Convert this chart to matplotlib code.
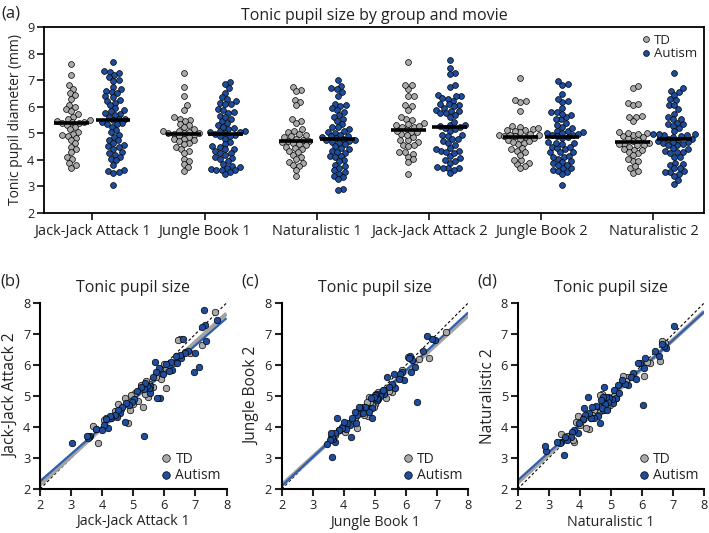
import numpy as np
import matplotlib
matplotlib.use('Agg')
import matplotlib.pyplot as plt
from matplotlib.lines import Line2D

plt.rcParams['font.family'] = ['Open Sans', 'DejaVu Sans']
plt.rcParams['text.color'] = '#222222'
plt.rcParams['axes.labelcolor'] = '#222222'
plt.rcParams['xtick.color'] = '#222222'
plt.rcParams['ytick.color'] = '#222222'

# ---------------- data ----------------
movies = ['Jack-Jack Attack 1', 'Jungle Book 1', 'Naturalistic 1',
          'Jack-Jack Attack 2', 'Jungle Book 2', 'Naturalistic 2']
groups = ['TD', 'Autism']

td_jja1 = [7.62, 7.20, 6.82, 6.68, 6.52, 6.45, 6.30, 6.05, 6.00, 5.90, 5.85, 5.72, 5.62, 5.55, 5.50, 5.47, 5.44, 5.42, 5.40, 5.38,
           5.32, 5.24, 5.15, 5.05, 4.98, 4.94, 4.90, 4.82, 4.75, 4.62, 4.50, 4.40, 4.28, 4.12, 4.05, 3.88, 3.80, 3.70]
td_jja2 = [7.70, 6.66, 6.40, 6.42, 6.83, 6.80, 6.05, 5.25, 6.02, 5.55, 5.88, 5.60, 5.30, 5.22, 5.40, 4.98, 5.15, 5.28, 5.50, 5.05,
           4.66, 5.35, 4.85, 5.10, 4.74, 5.04, 4.55, 4.12, 4.93, 4.57, 4.75, 4.52, 4.30, 4.28, 4.22, 3.47, 3.92, 4.02]
aut_jja1 = [7.68, 7.35, 7.32, 7.28, 7.20, 7.11, 7.00, 6.97, 6.75, 6.65, 6.60, 6.55, 6.50, 6.40, 6.36, 6.25, 6.22, 6.15, 6.05, 5.95,
            5.87, 5.83, 5.76, 5.74, 5.69, 5.62, 5.55, 5.53, 5.50, 5.44, 5.38, 5.36, 5.34, 5.24, 5.13, 5.03, 4.95, 4.85, 4.76, 4.74,
            4.64, 4.57, 4.52, 4.48, 4.42, 4.30, 4.25, 4.19, 4.12, 4.05, 3.98, 3.80, 3.62, 3.58, 3.55, 3.52, 3.04]
aut_jja2 = [7.45, 6.76, 7.28, 7.76, 7.22, 5.95, 6.40, 5.76, 6.45, 6.39, 6.83, 6.22, 6.32, 6.05, 6.30, 5.85, 6.09, 5.82, 6.02, 5.70,
            4.94, 5.89, 4.94, 5.76, 6.09, 5.62, 5.09, 5.32, 5.25, 5.32, 5.43, 5.21, 3.71, 5.28, 5.17, 4.89, 4.80, 4.70, 4.78, 4.15,
            4.65, 4.46, 4.55, 4.33, 4.40, 4.30, 4.35, 3.98, 4.26, 4.06, 3.90, 3.95, 3.72, 3.68, 3.63, 3.70, 3.49]

td_jb1 = [7.28, 6.75, 6.42, 6.05, 5.88, 5.60, 5.55, 5.50, 5.45, 5.35, 5.30, 5.22, 5.15, 5.10, 5.08, 5.05, 5.02, 5.00, 5.00, 4.98,
          4.95, 4.90, 4.85, 4.80, 4.78, 4.75, 4.70, 4.65, 4.60, 4.50, 4.42, 4.35, 4.25, 4.05, 3.95, 3.85, 3.72, 3.58]
td_jb2 = [7.08, 6.22, 6.18, 6.25, 5.85, 5.28, 5.12, 5.25, 5.15, 4.92, 5.20, 5.05, 5.10, 5.12, 4.95, 4.88, 4.85, 4.75, 4.95, 4.65,
          4.90, 4.70, 4.80, 4.98, 4.35, 4.82, 4.60, 4.40, 4.66, 4.45, 3.98, 4.28, 4.20, 3.85, 4.00, 3.90, 3.75, 3.68]
aut_jb1 = [6.92, 6.85, 6.69, 6.53, 6.36, 6.29, 6.20, 6.15, 6.12, 6.10, 5.93, 5.86, 5.80, 5.77, 5.66, 5.55, 5.39, 5.30, 5.20, 5.15,
           5.10, 5.07, 5.05, 5.03, 5.00, 4.96, 4.92, 4.91, 4.88, 4.80, 4.69, 4.60, 4.52, 4.48, 4.42, 4.40, 4.35, 4.26, 4.24, 4.20,
           4.10, 4.07, 4.02, 3.94, 3.85, 3.78, 3.72, 3.70, 3.65, 3.62, 3.60, 3.62, 3.55, 3.45, 5.45, 5.60, 5.25]
aut_jb2 = [6.82, 6.84, 6.95, 6.46, 4.82, 5.95, 6.17, 5.79, 6.28, 6.22, 5.52, 5.79, 5.70, 5.55, 5.25, 5.40, 5.61, 5.05, 5.10, 5.00,
           4.90, 4.87, 4.95, 5.08, 5.02, 4.98, 4.30, 4.60, 4.92, 4.50, 4.66, 4.45, 4.62, 4.64, 4.39, 4.12, 4.48, 4.28, 3.69, 4.05,
           4.12, 3.93, 4.15, 3.96, 3.90, 4.28, 3.80, 3.53, 3.62, 3.69, 3.82, 3.04, 3.58, 3.45, 5.30, 5.72, 5.20]

td_nat1 = [6.75, 6.63, 6.58, 6.25, 6.16, 6.05, 5.55, 5.47, 5.39, 5.15, 5.10, 5.05, 4.98, 4.92, 4.88, 4.85, 4.80, 4.75, 4.72, 4.70,
           4.66, 4.64, 4.60, 4.55, 4.50, 4.46, 4.40, 4.35, 4.28, 4.19, 4.10, 4.02, 3.93, 3.88, 3.80, 3.77, 3.60, 3.40]
td_nat2 = [6.71, 6.79, 6.14, 6.05, 6.09, 5.65, 5.62, 5.47, 5.63, 4.95, 5.00, 4.85, 4.72, 4.98, 4.60, 4.90, 4.75, 4.55, 5.05, 4.82,
           4.65, 5.02, 4.50, 4.40, 4.60, 4.55, 4.38, 4.30, 3.95, 3.96, 4.25, 4.05, 4.36, 4.17, 3.52, 3.58, 3.70, 3.77]
aut_nat1 = [7.02, 6.77, 6.71, 6.65, 6.55, 6.42, 6.10, 6.05, 6.03, 5.95, 5.88, 5.70, 5.63, 5.55, 5.45, 5.36, 5.23, 5.15, 5.10, 5.05,
            5.02, 4.95, 4.90, 4.85, 4.82, 4.78, 4.75, 4.73, 4.70, 4.67, 4.65, 4.58, 4.51, 4.45, 4.39, 4.35, 4.30, 4.25, 4.88, 4.16,
            4.14, 4.10, 5.80, 3.98, 3.95, 3.82, 3.75, 3.70, 3.60, 3.53, 3.48, 3.40, 3.35, 3.27, 2.92, 2.87, 5.25]
aut_nat2 = [7.25, 6.55, 6.60, 6.69, 6.30, 6.44, 6.24, 5.90, 4.71, 6.08, 6.05, 5.74, 5.62, 5.36, 5.40, 5.52, 5.36, 4.95, 5.20, 4.78,
            4.90, 4.92, 4.80, 4.98, 4.75, 5.29, 4.55, 4.98, 4.62, 4.87, 4.12, 4.35, 4.68, 4.30, 4.66, 4.28, 4.44, 4.98, 4.55, 4.39,
            4.61, 4.25, 5.55, 4.12, 3.80, 3.90, 3.85, 3.69, 3.58, 3.69, 3.10, 3.53, 3.48, 3.53, 3.24, 3.40, 5.10]

y_ticks = [2, 3, 4, 5, 6, 7, 8, 9]
sc_ticks = [2, 3, 4, 5, 6, 7, 8]

# ---------------- style ----------------
GRAY = '#a9a9a9'
BLUE = '#1d4d9c'
GRAY_LINE = '#a3a3a3'
BLUE_LINE = '#2f5fae'
MS = 4.2            # marker diameter (pt)
DPI = 100

td_by_movie = [td_jja1, td_jb1, td_nat1, td_jja2, td_jb2, td_nat2]
aut_by_movie = [aut_jja1, aut_jb1, aut_nat1, aut_jja2, aut_jb2, aut_nat2]

W, H = 709, 533
fig = plt.figure(figsize=(W / DPI, H / DPI), dpi=DPI)


def swarm_x(ax, center, vals, diam_px, overlap=0.9, step=0.5):
    """Beeswarm layout computed in display space, returned in data x."""
    vals = np.asarray(vals, float)
    pts = ax.transData.transform(np.column_stack([np.full(len(vals), center), vals]))
    cx, ys = pts[0, 0], pts[:, 1]
    mind2 = (diam_px * overlap) ** 2
    placed_x, placed_y = [], []
    offs = np.zeros(len(vals))
    for idx in np.argsort(ys):
        y = ys[idx]
        px = np.array(placed_x)
        py = np.array(placed_y)
        chosen = 0.0
        for k in range(400):
            cands = [0.0] if k == 0 else [k * step, -k * step]
            found = False
            for o in cands:
                if len(px) == 0 or np.all((px - o) ** 2 + (py - y) ** 2 >= mind2):
                    chosen, found = o, True
                    break
            if found:
                break
        placed_x.append(chosen)
        placed_y.append(y)
        offs[idx] = chosen
    back = ax.transData.inverted().transform(np.column_stack([cx + offs, ys]))
    return back[:, 0]


# ---------------- panel (a) ----------------
ax = fig.add_axes([44 / W, 1 - 213 / H, 660 / W, 186 / H])
ax.set_xlim(-0.43, 5.45)
ax.set_ylim(2, 9)
xpos = np.arange(len(movies))
off = 0.185
diam_px = MS * DPI / 72.0
for i, (td, au) in enumerate(zip(td_by_movie, aut_by_movie)):
    for d, vals, col, z in ((-off, td, GRAY, 3), (off, au, BLUE, 4)):
        xs = swarm_x(ax, xpos[i] + d, vals, diam_px)
        ax.scatter(xs, vals, s=MS ** 2, c=col, edgecolors='black', linewidths=0.5, zorder=z)
        ax.hlines(np.median(vals), xpos[i] + d - 0.155, xpos[i] + d + 0.155,
                  color='black', lw=2.6, zorder=5)
ax.set_xticks(xpos)
ax.set_xticklabels(movies)
ax.set_yticks(y_ticks)
ax.set_ylabel('Tonic pupil diameter (mm)', fontsize=10, labelpad=3)
ax.tick_params(axis='x', length=5, width=1.3, labelsize=10.5, pad=3)
ax.tick_params(axis='y', length=5, width=1.3, labelsize=9.2, pad=2)
for s in ax.spines.values():
    s.set_linewidth(1.3)
ax.set_title('Tonic pupil size by group and movie', fontsize=11.5, pad=5)
handles = [Line2D([], [], ls='none', marker='o', ms=MS, mfc=c, mec='black', mew=0.5)
           for c in (GRAY, BLUE)]
ax.legend(handles, groups, loc='upper right', frameon=False, fontsize=9.5,
          handlelength=0.6, handletextpad=0.3, labelspacing=0.05, borderaxespad=0.3,
          borderpad=0.2)
fig.text(1 / W, 1 - 13 / H, '(a)', fontsize=12, va='center', ha='left')

# ---------------- panels (b)-(d) ----------------
pairs = [
    (td_jja1, td_jja2, aut_jja1, aut_jja2, 'Jack-Jack Attack 1', 'Jack-Jack Attack 2', '(b)', 40),
    (td_jb1, td_jb2, aut_jb1, aut_jb2, 'Jungle Book 1', 'Jungle Book 2', '(c)', 281.7),
    (td_nat1, td_nat2, aut_nat1, aut_nat2, 'Naturalistic 1', 'Naturalistic 2', '(d)', 517.7),
]
for tdx, tdy, aux, auy, xl, yl, tag, left in pairs:
    a = fig.add_axes([left / W, 1 - 489 / H, 186.5 / W, 186 / H])
    a.set_xlim(2, 8)
    a.set_ylim(2, 8)
    a.axline((0, 0), slope=1, color='black', lw=0.8, ls=(0, (2.5, 2)), zorder=1)
    xx = np.array(a.get_xlim())
    p_td = np.polyfit(tdx, tdy, 1)
    p_au = np.polyfit(aux, auy, 1)
    a.plot(xx, np.polyval(p_td, xx), color=GRAY_LINE, lw=3.0, zorder=1.5, solid_capstyle='butt')
    a.plot(xx, np.polyval(p_au, xx), color=BLUE_LINE, lw=1.6, zorder=1.6, solid_capstyle='butt')
    a.scatter(tdx, tdy, s=22, c=GRAY, edgecolors='black', linewidths=0.5, zorder=3)
    a.scatter(aux, auy, s=22, c=BLUE, edgecolors='black', linewidths=0.5, zorder=4)
    a.set_xticks(sc_ticks)
    a.set_yticks(sc_ticks)
    for s in ('top', 'right'):
        a.spines[s].set_visible(False)
    for s in ('left', 'bottom'):
        a.spines[s].set_linewidth(1.5)
    a.tick_params(length=5, width=1.5, labelsize=9.2, pad=2)
    a.set_xlabel(xl, fontsize=10.3, labelpad=2)
    a.set_ylabel(yl, fontsize=11.2, labelpad=3)
    a.set_title('Tonic pupil size', fontsize=11.5, pad=8)
    a.legend(handles, groups, loc='lower right', frameon=False, fontsize=10,
             handlelength=0.6, handletextpad=0.35, labelspacing=0.1,
             borderaxespad=0.2, borderpad=0.2, markerscale=1.3)
    fig.text((left - 40) / W, 1 - 281 / H, tag, fontsize=12, va='center', ha='left')

fig.savefig('out.png', dpi=DPI)
